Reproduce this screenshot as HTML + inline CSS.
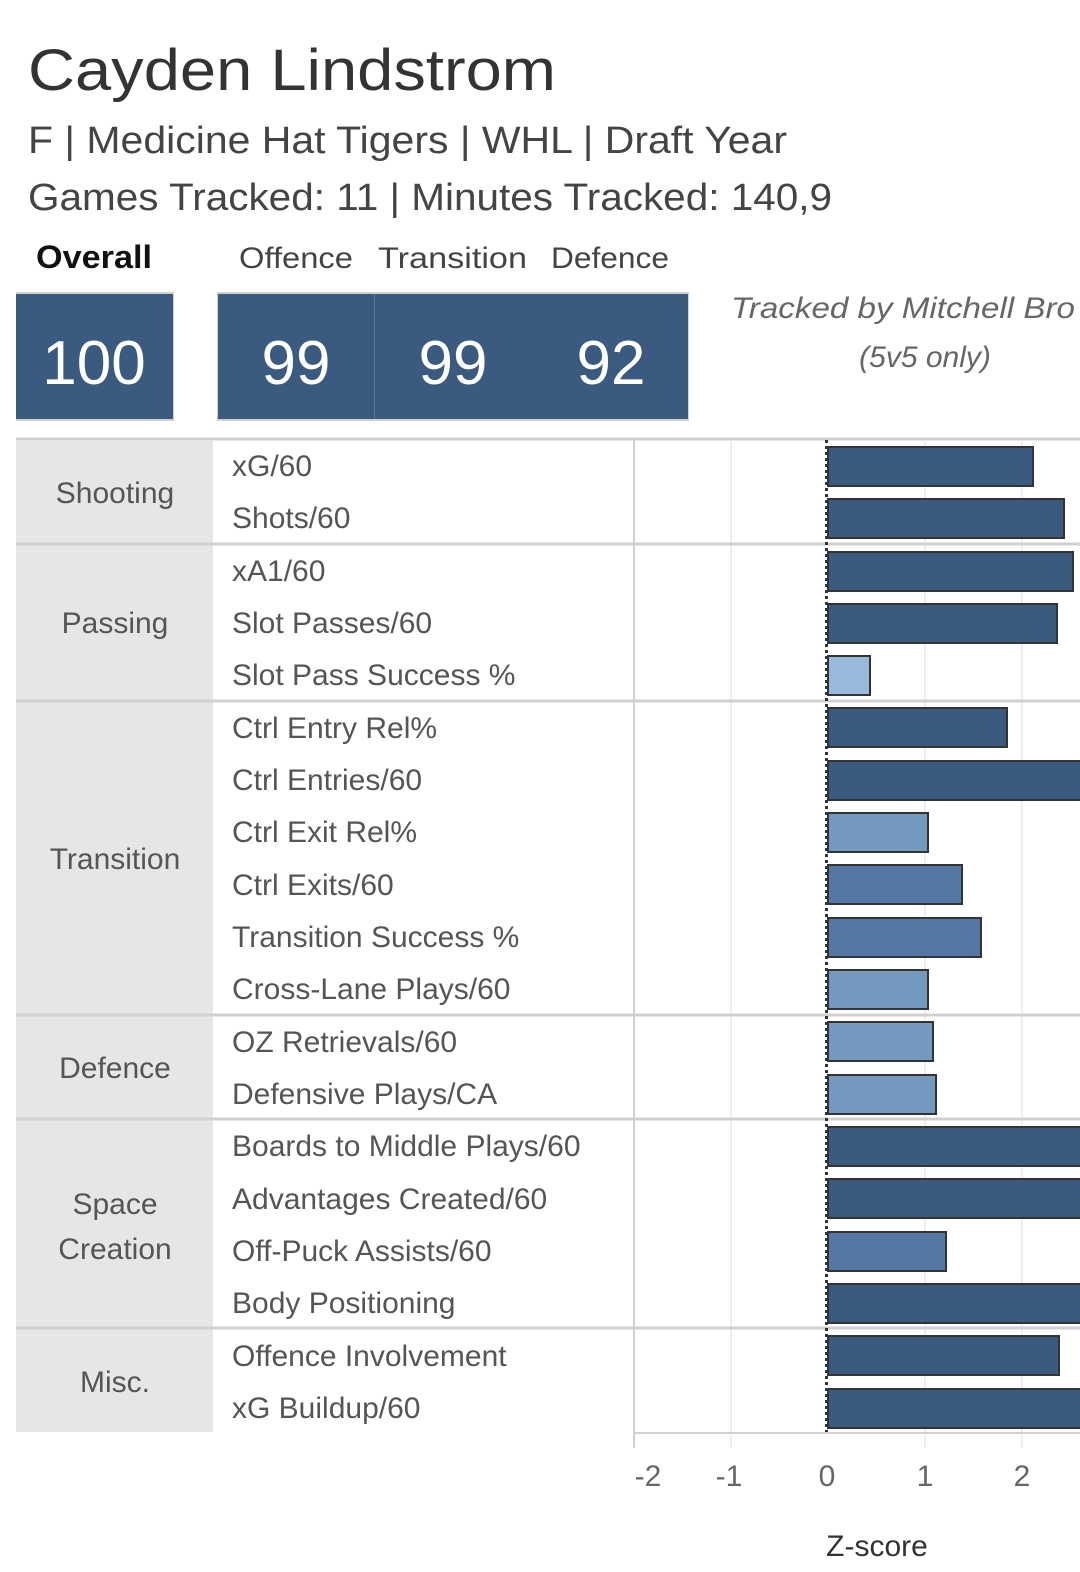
<!DOCTYPE html>
<html><head><meta charset="utf-8"><style>
html,body{margin:0;padding:0;background:#fff;}
svg{display:block;font-family:"Liberation Sans",sans-serif;}
</style></head><body>
<svg width="1080" height="1572" viewBox="0 0 1080 1572" xmlns="http://www.w3.org/2000/svg">
<text x="28" y="90" font-size="58" fill="#333" textLength="528" lengthAdjust="spacingAndGlyphs">Cayden Lindstrom</text>
<text x="28" y="153" font-size="38" fill="#444" textLength="759" lengthAdjust="spacingAndGlyphs">F | Medicine Hat Tigers | WHL | Draft Year</text>
<text x="28" y="210" font-size="38" fill="#444" textLength="804" lengthAdjust="spacingAndGlyphs">Games Tracked: 11 | Minutes Tracked: 140,9</text>
<text x="36" y="268" font-size="32" font-weight="bold" fill="#111" textLength="116" lengthAdjust="spacingAndGlyphs">Overall</text>
<text x="239" y="268" font-size="30" fill="#444" textLength="114" lengthAdjust="spacingAndGlyphs">Offence</text>
<text x="378" y="268" font-size="30" fill="#444" textLength="149" lengthAdjust="spacingAndGlyphs">Transition</text>
<text x="551" y="268" font-size="30" fill="#444" textLength="118" lengthAdjust="spacingAndGlyphs">Defence</text>
<rect x="16" y="292" width="158" height="129" fill="#d0d0d0"/>
<rect x="16" y="294" width="157" height="125" fill="#3b5a80"/>
<rect x="217" y="292" width="472" height="129" fill="#d0d0d0"/>
<rect x="218" y="294" width="470" height="125" fill="#3b5a80"/>
<line x1="374.5" y1="294" x2="374.5" y2="419" stroke="#5c789c" stroke-width="1"/>
<g font-size="62" fill="#fff" text-anchor="middle">
<text x="94" y="384">100</text><text x="296" y="384">99</text><text x="453" y="384">99</text><text x="611" y="384">92</text>
</g>
<text x="731" y="318" font-size="30" font-style="italic" fill="#666" textLength="344" lengthAdjust="spacingAndGlyphs">Tracked by Mitchell Bro</text>
<text x="925" y="367" font-size="30" font-style="italic" fill="#666" text-anchor="middle">(5v5 only)</text>

<line x1="16" y1="439" x2="1080" y2="439" stroke="#d0d0d0" stroke-width="3"/>
<rect x="16" y="440" width="197" height="992" fill="#e6e6e6"/>
<!-- gridlines -->
<g stroke="#eeeeee" stroke-width="2">
<line x1="731" y1="440" x2="731" y2="1448"/><line x1="925" y1="440" x2="925" y2="1448"/><line x1="1022" y1="440" x2="1022" y2="1448"/>
</g>
<line x1="634" y1="440" x2="634" y2="1448" stroke="#d0d0d0" stroke-width="2"/>
<line x1="634" y1="1433" x2="1080" y2="1433" stroke="#d0d0d0" stroke-width="2"/>
<g stroke="#d0d0d0" stroke-width="3">
<line x1="16" y1="544" x2="1080" y2="544"/><line x1="16" y1="701" x2="1080" y2="701"/><line x1="16" y1="1015" x2="1080" y2="1015"/>
<line x1="16" y1="1119" x2="1080" y2="1119"/><line x1="16" y1="1328" x2="1080" y2="1328"/>
</g>
<g font-size="30" fill="#555" text-anchor="middle">
<text x="115" y="503">Shooting</text><text x="115" y="633">Passing</text><text x="115" y="869">Transition</text>
<text x="115" y="1078">Defence</text><text x="115" y="1214">Space</text><text x="115" y="1259">Creation</text><text x="115" y="1392">Misc.</text>
</g>
<g font-size="30" fill="#555">
<text x="232" y="476">xG/60</text><text x="232" y="528">Shots/60</text><text x="232" y="581">xA1/60</text>
<text x="232" y="633">Slot Passes/60</text><text x="232" y="685">Slot Pass Success %</text><text x="232" y="738">Ctrl Entry Rel%</text>
<text x="232" y="790">Ctrl Entries/60</text><text x="232" y="842">Ctrl Exit Rel%</text><text x="232" y="895">Ctrl Exits/60</text>
<text x="232" y="947">Transition Success %</text><text x="232" y="999">Cross-Lane Plays/60</text><text x="232" y="1052">OZ Retrievals/60</text>
<text x="232" y="1104">Defensive Plays/CA</text><text x="232" y="1156">Boards to Middle Plays/60</text><text x="232" y="1209">Advantages Created/60</text>
<text x="232" y="1261">Off-Puck Assists/60</text><text x="232" y="1313">Body Positioning</text><text x="232" y="1366">Offence Involvement</text>
<text x="232" y="1418">xG Buildup/60</text>
</g>
<g stroke="#333" stroke-width="2">
<rect x="828" y="447" width="205" height="39" fill="#3b5a80"/>
<rect x="828" y="499" width="236" height="39" fill="#3b5a80"/>
<rect x="828" y="552" width="245" height="39" fill="#3b5a80"/>
<rect x="828" y="604" width="229" height="39" fill="#3b5a80"/>
<rect x="828" y="656" width="42" height="39" fill="#98b9dc"/>
<rect x="828" y="708" width="179" height="39" fill="#3b5a80"/>
<rect x="828" y="761" width="260" height="39" fill="#3b5a80"/>
<rect x="828" y="813" width="100" height="39" fill="#7399bf"/>
<rect x="828" y="865" width="134" height="39" fill="#5577a3"/>
<rect x="828" y="918" width="153" height="39" fill="#5577a3"/>
<rect x="828" y="970" width="100" height="39" fill="#7399bf"/>
<rect x="828" y="1022" width="105" height="39" fill="#7399bf"/>
<rect x="828" y="1075" width="108" height="39" fill="#7399bf"/>
<rect x="828" y="1127" width="260" height="39" fill="#3b5a80"/>
<rect x="828" y="1179" width="260" height="39" fill="#3b5a80"/>
<rect x="828" y="1232" width="118" height="39" fill="#5577a3"/>
<rect x="828" y="1284" width="260" height="39" fill="#3b5a80"/>
<rect x="828" y="1336" width="231" height="39" fill="#3b5a80"/>
<rect x="828" y="1389" width="260" height="39" fill="#3b5a80"/>
</g>
<line x1="826.5" y1="440" x2="826.5" y2="1432" stroke="#333" stroke-width="3" stroke-dasharray="3,3"/>
<g font-size="30" fill="#666" text-anchor="middle">
<text x="648" y="1486">-2</text><text x="729" y="1486">-1</text><text x="827" y="1486">0</text><text x="925" y="1486">1</text><text x="1022" y="1486">2</text>
</g>
<text x="877" y="1556" font-size="30" fill="#333" text-anchor="middle">Z-score</text>
</svg>
</body></html>
